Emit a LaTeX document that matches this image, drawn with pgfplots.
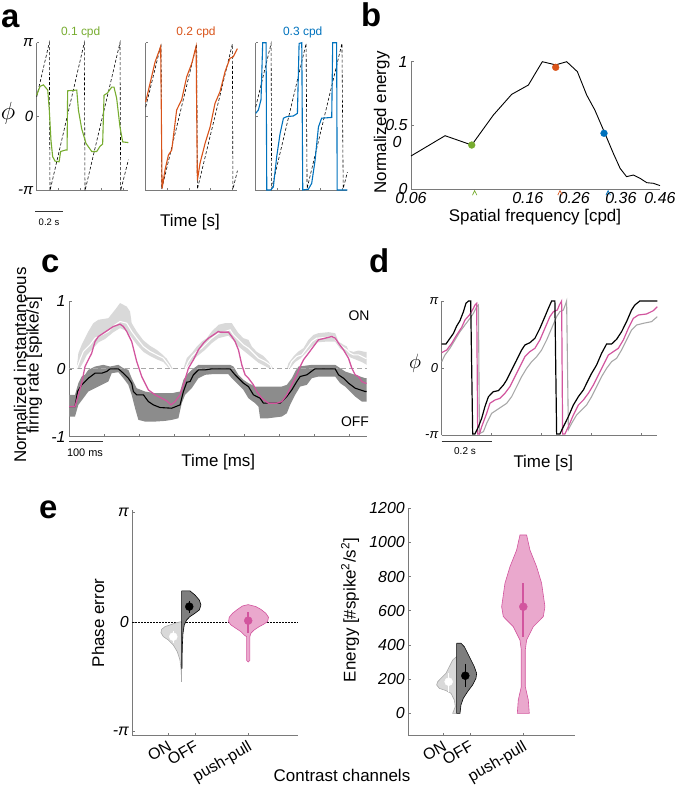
\documentclass[border=0pt]{standalone}
\usepackage{fontspec}
\setmainfont{Liberation Sans}
\usepackage{pgfplots}
\pgfplotsset{compat=1.18}

\definecolor{axc}{HTML}{7A7A7A}
\definecolor{mgreen}{HTML}{77AC30}
\definecolor{morange}{HTML}{D95319}
\definecolor{mblue}{HTML}{0072BD}
\definecolor{pp}{HTML}{D2559E}
\definecolor{ppfill}{HTML}{EAA8CD}
\definecolor{onband}{HTML}{D9D9D9}
\definecolor{offband}{HTML}{8C8C8C}
\definecolor{gline}{HTML}{A8A8A8}

\newcommand{\fs}[1]{\fontsize{#1}{#1}\selectfont}

\pgfdeclareplotmark{caret}{%
  \pgfpathmoveto{\pgfpoint{-2.2bp}{-2bp}}%
  \pgfpathlineto{\pgfpoint{0bp}{2.5bp}}%
  \pgfpathlineto{\pgfpoint{2.2bp}{-2bp}}%
  \pgfusepathqstroke}

\pgfplotsset{
  mat/.style={
    scale only axis, anchor=south west, clip=false,
    axis x line*=bottom, axis y line*=left,
    axis line style={draw=axc, line width=0.7bp, -},
    every tick/.style={draw=axc, line width=0.7bp},
    tick align=inside, major tick length=2.5bp, minor tick length=0pt,
    ticklabel style={font=\fs{16}\itshape, text=black},
    /pgf/number format/assume math mode=true,
  },
  stim/.style={black, line width=0.6bp, dash pattern=on 3bp off 2bp},
}

\begin{document}
\begin{tikzpicture}
\path[use as bounding box] (0,0) rectangle (675bp,-788bp);

% ---------------- panel a ----------------
\begin{axis}[mat, at={(36.7bp,-190.7bp)}, width=91.7bp, height=148bp,
  xmin=0, xmax=0.655, ymin=-1, ymax=1,
  xtick={0.155,0.31,0.465,0.62}, xticklabels={},
  ytick={-1,0,1}, yticklabels={-π,0,π}, yticklabel style={font=\fs{15}\itshape}]
\addplot[stim] coordinates {(0,0.27) (0.09,1) (0.095,-1) (0.34,1) (0.345,-1) (0.595,1) (0.60,-1) (0.655,-0.58)};
\addplot[mgreen, line width=1.1bp] coordinates {
(0,0.29) (0.024,0.41) (0.048,0.43) (0.079,0.36) (0.09,0.09) (0.102,-0.32) (0.114,-0.54)
(0.131,-0.60) (0.160,-0.61) (0.171,-0.47) (0.207,-0.45) (0.217,-0.45) (0.221,0.35)
(0.286,0.36) (0.298,0.09) (0.321,-0.16) (0.352,-0.36) (0.393,-0.47) (0.429,-0.47)
(0.452,-0.40) (0.471,-0.37) (0.481,0.29) (0.505,0.32) (0.536,0.40) (0.552,0.40)
(0.571,0.25) (0.595,-0.14) (0.614,-0.34) (0.655,-0.35)};
\end{axis}

\begin{axis}[mat, at={(145.7bp,-190.7bp)}, width=91.7bp, height=148bp,
  xmin=0, xmax=0.655, ymin=-1, ymax=1,
  xtick={0.155,0.31,0.465,0.62}, xticklabels={},
  ytick={-1,0,1}, yticklabels={}]
\addplot[stim] coordinates {(0,0.13) (0.11,0.98) (0.114,-0.98) (0.364,0.98) (0.369,-0.98) (0.619,0.98) (0.623,-0.98) (0.655,-0.73)};
\addplot[morange, line width=1.1bp] coordinates {
(0,0.20) (0.031,0.45) (0.067,0.74) (0.098,0.90) (0.107,0.95) (0.117,-0.97) (0.138,-0.72)
(0.162,-0.52) (0.186,-0.45) (0.221,0.09) (0.257,0.23) (0.293,0.54) (0.329,0.72)
(0.36,0.95) (0.369,-0.86) (0.388,-0.63) (0.424,-0.36) (0.46,-0.14) (0.495,0.18)
(0.531,0.34) (0.567,0.61) (0.602,0.79) (0.626,0.81) (0.655,0.92)};
\end{axis}

\begin{axis}[mat, at={(255.7bp,-190.7bp)}, width=91.7bp, height=148bp,
  xmin=0, xmax=0.655, ymin=-1, ymax=1,
  xtick={0.155,0.31,0.465,0.62}, xticklabels={},
  ytick={-1,0,1}, yticklabels={}]
\addplot[stim] coordinates {(0,0.13) (0.11,0.99) (0.114,-0.97) (0.36,0.99) (0.367,-0.97) (0.616,0.99) (0.625,-0.97) (0.655,-0.75)};
\addplot[mblue, line width=1.1bp] coordinates {
(0,0.045) (0.019,0.09) (0.038,0.23) (0.05,1.0) (0.074,1.0) (0.079,-0.99) (0.107,-0.99)
(0.126,-0.95) (0.15,-0.54) (0.174,-0.23) (0.198,-0.02) (0.221,0) (0.269,0.01)
(0.298,0.045) (0.31,0.99) (0.329,1.0) (0.336,-0.99) (0.376,-0.98) (0.40,-0.9)
(0.424,-0.59) (0.448,-0.14) (0.471,-0.02) (0.543,-0.01) (0.55,1.0) (0.578,1.0)
(0.582,-0.99) (0.655,-0.99)};
\end{axis}

% ---------------- panel b ----------------
\begin{axis}[mat, at={(411bp,-189.3bp)}, width=249bp, height=127.6bp,
  xmode=log, xmin=0.06, xmax=0.46, ymin=0, ymax=1,
  xtick={0.06,0.156,0.228,0.334,0.46}, xticklabels={0.06,0.16,0.26,0.36,0.46},
  minor xtick={}, xtick style={draw=none},
  ytick={0,0.5,1}, yticklabels={0,0.5,1}]
\addplot[black, line width=0.9bp] coordinates {
(0.06,0.261) (0.0793,0.420) (0.0986,0.347) (0.1177,0.582) (0.1367,0.744) (0.1567,0.817)
(0.1757,1.0) (0.196,0.975) (0.2144,1.0) (0.234,0.922) (0.2525,0.739) (0.270,0.621)
(0.293,0.439) (0.314,0.282) (0.332,0.164) (0.350,0.099) (0.370,0.112) (0.391,0.086)
(0.4126,0.052) (0.4357,0.047) (0.46,0.029)};
\addplot[only marks, mark=*, mark size=3.4bp, mgreen] coordinates {(0.0986,0.347)};
\addplot[only marks, mark=*, mark size=3.4bp, morange] coordinates {(0.196,0.956)};
\addplot[only marks, mark=*, mark size=3.4bp, mblue] coordinates {(0.291,0.439)};
\addplot[only marks, mark=caret, mgreen, line width=0.7bp] coordinates {(0.101,-0.03)};
\addplot[only marks, mark=caret, morange, line width=0.7bp] coordinates {(0.203,-0.03)};
\addplot[only marks, mark=caret, mblue, line width=0.7bp] coordinates {(0.301,-0.03)};
\end{axis}

% ---------------- panel c ----------------
\begin{axis}[mat, at={(69bp,-436.7bp)}, width=297.7bp, height=135.7bp,
  xmin=0, xmax=850, ymin=-1, ymax=1,
  xtick={100,200,...,800}, xticklabels={},
  ytick={-1,0,1}, yticklabels={-1,0,1}]
% OFF band
\addplot[fill=offband, draw=none] coordinates {
(0,-0.383) (17.1,-0.383) (26.7,-0.211) (36.2,-0.113) (45.7,-0.088) (55.2,-0.015) (74.3,0.034)
(98.1,0.059) (117.1,0.034) (141,0.059) (155.2,0.01) (169.5,-0.015) (179,-0.138) (193.3,-0.285)
(217.1,-0.334) (245.7,-0.359) (293.3,-0.359) (317.1,-0.334) (326.7,-0.162) (336.2,-0.088)
(350.5,-0.015) (369.5,0.059) (460,0.059) (469.5,0.034) (483.8,-0.088) (498,-0.162)
(512.3,-0.211) (531.4,-0.261) (607.6,-0.261) (621.9,-0.236) (636.1,-0.138) (645.7,-0.039)
(655.2,0.034) (693.3,0.059) (760,0.059) (774.2,0.01) (788.5,-0.039) (817.1,-0.088)
(845.6,-0.138) (850,-0.138)
(850,-0.482) (836.1,-0.482) (817.1,-0.408) (798,-0.310) (788.5,-0.261) (774.2,-0.211)
(760,-0.113) (712.3,-0.113) (693.3,-0.138) (679,-0.236) (660,-0.261) (645.7,-0.383)
(631.4,-0.531) (621.9,-0.654) (607.6,-0.703) (569.5,-0.728) (545.7,-0.728) (540.9,-0.556)
(531.4,-0.506) (512.3,-0.433) (498,-0.310) (483.8,-0.236) (464.7,-0.138) (455.2,-0.079)
(407.6,-0.079) (388.6,-0.088) (369.5,-0.138) (350.5,-0.285) (331.4,-0.383) (321.9,-0.506)
(312.4,-0.728) (293.3,-0.752) (274.3,-0.767) (245.7,-0.777) (217.1,-0.777) (198.1,-0.752)
(188.6,-0.580) (179,-0.383) (169.5,-0.236) (155.2,-0.138) (141,-0.049) (121.9,-0.064)
(112.4,-0.187) (93.3,-0.236) (74.3,-0.285) (55.2,-0.334) (41,-0.433) (26.7,-0.531)
(17.1,-0.703) (0,-0.703)};
% ON band, three humps
\addplot[fill=onband, draw=none] coordinates {
(21.9,0) (26.7,0.231) (36.2,0.354) (45.7,0.452) (55.2,0.551) (69.5,0.674) (83.8,0.723)
(112.4,0.747) (131.4,0.870) (145.7,0.969) (164.8,0.919) (174.3,0.846) (179,0.674)
(193.3,0.551) (212.4,0.42) (231.4,0.34) (250.5,0.28) (264.8,0.22) (279,0.15) (290,0.06) (296,0)
(291,0) (283.8,0.02) (269.5,0.10) (250.5,0.14) (231.4,0.19) (212.4,0.25) (193.3,0.36)
(179,0.46) (164.8,0.56) (145.7,0.60) (126.7,0.54) (102.9,0.44) (83.8,0.39) (64.8,0.28)
(50.5,0.20) (41,0.10) (30,0)};
\addplot[fill=onband, draw=none] coordinates {
(326.7,0) (336.2,0.157) (350.5,0.231) (364.8,0.329) (379,0.403) (393.3,0.452) (407.6,0.551)
(426.7,0.649) (445.7,0.674) (464.7,0.674) (474.2,0.60) (483.8,0.526) (498,0.452)
(512.3,0.428) (521.9,0.329) (536.1,0.25) (555.2,0.19) (569.5,0.11) (583.8,0)
(574.2,0) (560,0.04) (540.9,0.09) (521.9,0.17) (502.8,0.25) (483.8,0.33) (469.5,0.42)
(455.2,0.49) (445.7,0.477) (426.7,0.452) (407.6,0.379) (388.6,0.28) (364.8,0.182)
(345.7,0.08) (331.4,0)};
\addplot[fill=onband, draw=none] coordinates {
(621.9,0) (626.6,0.084) (640.9,0.182) (655.2,0.256) (669.5,0.305) (683.8,0.428) (698,0.501)
(712.3,0.526) (740.9,0.541) (760,0.526) (769.5,0.403) (783.8,0.354) (793.3,0.329)
(798,0.27) (812.3,0.25) (826.6,0.27) (845.6,0.25) (850,0.25)
(850,0.06) (836.1,0.10) (817.1,0.14) (802.8,0.17) (788.5,0.25) (774.2,0.30) (760,0.40)
(731.4,0.40) (707.6,0.39) (693.3,0.33) (674,0.22) (660,0.15) (645.7,0.10) (630,0)};
\addplot[gline, line width=0.9bp, dash pattern=on 5bp off 3bp] coordinates {(0,0) (850,0)};
% ON mean
\addplot[white, line width=1.1bp] coordinates {
(21.9,0) (31.4,0.133) (41,0.256) (50.5,0.305) (60,0.354) (74.3,0.452) (93.3,0.501)
(112.4,0.551) (131.4,0.649) (145.7,0.698) (164.8,0.674) (179,0.551) (193.3,0.452)
(212.4,0.329) (231.4,0.256) (250.5,0.206) (269.5,0.157) (283.8,0.059) (291.4,0)};
\addplot[white, line width=1.1bp] coordinates {
(331.4,0) (341,0.108) (350.5,0.182) (364.8,0.256) (379,0.305) (393.3,0.379) (407.6,0.452)
(426.7,0.526) (445.7,0.551) (460,0.575) (469.5,0.501) (483.8,0.428) (498,0.354)
(512.3,0.305) (526.6,0.231) (540.9,0.157) (560,0.108) (574.2,0.059) (579,0)};
\addplot[white, line width=1.1bp] coordinates {
(626.6,0) (636.1,0.108) (650.4,0.182) (664.7,0.206) (679,0.305) (693.3,0.403) (707.6,0.452)
(731.4,0.462) (755.2,0.477) (764.7,0.403) (779,0.329) (793.3,0.280) (802.8,0.231)
(812.3,0.206) (826.6,0.206) (836.1,0.182) (845.6,0.157) (850,0.157)};
% OFF mean
\addplot[black, line width=1.1bp] coordinates {
(0,-0.556) (17.1,-0.556) (24.4,-0.334) (36.2,-0.236) (45.7,-0.187) (55.2,-0.138) (74.3,-0.064)
(93.3,-0.064) (107.6,-0.039) (117.1,0) (141,0) (155.2,-0.064) (169.5,-0.138) (179,-0.211)
(183.8,-0.334) (193.3,-0.383) (212.4,-0.383) (226.7,-0.482) (241,-0.531) (260,-0.570)
(293.3,-0.580) (317.1,-0.531) (326.7,-0.334) (336.2,-0.197) (345.7,-0.187) (355.2,-0.088)
(369.5,-0.015) (388.6,-0.015) (407.6,0) (460,0) (474.2,-0.088) (488.5,-0.162) (498,-0.211)
(512.3,-0.261) (526.6,-0.383) (545.7,-0.433) (555.2,-0.506) (602.8,-0.506) (621.9,-0.408)
(636.1,-0.310) (650.4,-0.187) (660,-0.113) (679,-0.088) (698,-0.015) (702.8,0) (760,0)
(769.5,-0.088) (783.8,-0.138) (798,-0.211) (817.1,-0.285) (845.6,-0.334) (850,-0.334)};
% push-pull
\addplot[pp, line width=1.3bp] coordinates {
(0,-0.556) (17.1,-0.556) (26.7,-0.383) (36.2,-0.211) (45.7,0.034) (55.2,0.133) (64.8,0.231)
(74.3,0.403) (83.8,0.477) (98.1,0.526) (112.4,0.575) (126.7,0.624) (145.7,0.659)
(155.2,0.624) (164.8,0.551) (179,0.403) (193.3,0.108) (207.6,-0.113) (226.7,-0.310)
(245.7,-0.383) (264.8,-0.433) (279,-0.472) (291.4,-0.531) (302.9,-0.482) (317.1,-0.383)
(326.7,-0.236) (341,0.01) (355.2,0.133) (369.5,0.280) (383.8,0.379) (398,0.452)
(412.4,0.501) (426.7,0.551) (431.4,0.541) (455.2,0.541) (464.7,0.477) (474.2,0.403)
(483.8,0.280) (493.3,0.059) (502.8,-0.088) (512.3,-0.138) (526.6,-0.236) (536.1,-0.334)
(550.4,-0.433) (569.5,-0.506) (593.3,-0.506) (607.6,-0.482) (621.9,-0.383) (636.1,-0.236)
(650.4,-0.088) (660,0.034) (669.5,0.133) (683.8,0.231) (698,0.329) (712.3,0.428)
(731.4,0.452) (750.4,0.477) (760,0.452) (769.5,0.379) (783.8,0.280) (798,0.157)
(807.5,0.01) (817.1,-0.088) (826.6,-0.113) (836.1,-0.187) (845.6,-0.211) (850,-0.211)};
\end{axis}

% ---------------- panel d ----------------
\begin{axis}[mat, at={(441.7bp,-435bp)}, width=215.6bp, height=134bp,
  xmin=0, xmax=0.863, ymin=-1, ymax=1,
  xtick={0.2,0.4,0.6,0.8}, xticklabels={},
  ytick={-1,0,1}, yticklabels={-π,0,π}, yticklabel style={font=\fs{13}\itshape}]
\addplot[gline, line width=1.1bp] coordinates {
(0,0.095) (0.013,0.194) (0.033,0.294) (0.053,0.418) (0.073,0.542) (0.093,0.642) (0.113,0.741)
(0.127,0.816) (0.14,0.915) (0.147,0.94) (0.151,-0.985) (0.153,-0.975) (0.167,-0.95)
(0.18,-0.826) (0.2,-0.677) (0.22,-0.627) (0.24,-0.577) (0.26,-0.527) (0.28,-0.428)
(0.30,-0.279) (0.32,-0.129) (0.34,-0.005) (0.36,0.095) (0.38,0.169) (0.40,0.269)
(0.42,0.418) (0.44,0.592) (0.46,0.766) (0.473,0.841) (0.487,0.866) (0.497,0.965) (0.50,1)
(0.507,-0.92) (0.52,-0.826) (0.54,-0.701) (0.56,-0.627) (0.58,-0.552) (0.60,-0.428)
(0.62,-0.279) (0.64,-0.129) (0.66,-0.005) (0.68,0.095) (0.70,0.144) (0.72,0.269)
(0.74,0.418) (0.76,0.567) (0.78,0.642) (0.807,0.667) (0.84,0.692) (0.863,0.766)};
\addplot[pp, line width=1.2bp] coordinates {
(0,0.229) (0.02,0.269) (0.04,0.368) (0.06,0.493) (0.08,0.607) (0.093,0.716) (0.111,0.791)
(0.127,0.891) (0.133,0.94) (0.14,0.965) (0.144,-0.985) (0.151,-0.985) (0.16,-0.876)
(0.18,-0.677) (0.193,-0.527) (0.213,-0.478) (0.233,-0.453) (0.253,-0.378) (0.273,-0.279)
(0.293,-0.129) (0.313,0.02) (0.333,0.169) (0.353,0.244) (0.373,0.294) (0.393,0.418)
(0.413,0.592) (0.433,0.766) (0.447,0.841) (0.463,0.866) (0.471,0.94) (0.48,1.0)
(0.484,-0.985) (0.493,-0.985) (0.507,-0.876) (0.527,-0.701) (0.547,-0.552) (0.567,-0.478)
(0.587,-0.378) (0.607,-0.254) (0.627,-0.104) (0.647,0.045) (0.667,0.194) (0.687,0.244)
(0.707,0.294) (0.727,0.418) (0.747,0.592) (0.767,0.741) (0.787,0.791) (0.82,0.806)
(0.847,0.856) (0.863,0.915)};
\addplot[black, line width=1.2bp] coordinates {
(0,0.358) (0.017,0.358) (0.033,0.443) (0.047,0.517) (0.06,0.627) (0.073,0.706) (0.087,0.841)
(0.097,0.965) (0.107,1.0) (0.116,1.0) (0.124,-0.985) (0.133,-0.985) (0.147,-0.876)
(0.16,-0.751) (0.173,-0.577) (0.187,-0.428) (0.207,-0.353) (0.227,-0.338) (0.247,-0.254)
(0.26,-0.179) (0.28,-0.03) (0.30,0.119) (0.32,0.269) (0.333,0.343) (0.353,0.378)
(0.373,0.443) (0.393,0.592) (0.413,0.766) (0.427,0.891) (0.44,1.0) (0.453,1.0)
(0.46,-0.985) (0.473,-0.985) (0.487,-0.876) (0.507,-0.726) (0.527,-0.552) (0.547,-0.428)
(0.567,-0.328) (0.58,-0.229) (0.60,-0.08) (0.62,0.045) (0.64,0.219) (0.66,0.358)
(0.68,0.358) (0.70,0.428) (0.72,0.542) (0.74,0.692) (0.76,0.866) (0.773,0.94) (0.793,1.0)
(0.863,1.0)};
\end{axis}

% ---------------- panel e, phase error ----------------
\begin{axis}[mat, at={(132.3bp,-735bp)}, width=166bp, height=225bp,
  xmin=0.325, xmax=3.44, ymin=-1.03, ymax=1.02,
  xtick={1,1.5,2.5}, xticklabels={ON,OFF,push-pull},
  xticklabel style={font=\fs{16}\upshape, rotate=30, anchor=north east},
  ytick={-1,0,1}, yticklabels={-π,0,π}]
\addplot[black, line width=0.5bp, dash pattern=on 1.5bp off 1.5bp] coordinates {(0.325,0) (3.44,0)};
\addplot[fill=onband, draw=gline, line width=0.6bp] coordinates {
(1.25,0.003) (1.157,-0.006) (1.032,-0.027) (0.938,-0.043) (0.875,-0.067) (0.863,-0.097)
(0.907,-0.134) (1.0,-0.164) (1.094,-0.210) (1.169,-0.271) (1.219,-0.346) (1.238,-0.422)
(1.25,-0.529)};
\addplot[gline, line width=1.2bp] coordinates {(1.25,-0.42) (1.25,-0.55)};
\addplot[fill=offband!90!black, draw=black, line width=0.6bp] coordinates {
(1.25,0.283) (1.407,0.283) (1.50,0.246) (1.582,0.20) (1.613,0.155) (1.582,0.109) (1.50,0.079)
(1.407,0.049) (1.345,0.018) (1.30,-0.027) (1.276,-0.103) (1.263,-0.225) (1.257,-0.422)
(1.25,-0.422) (1.25,0.283)};
\addplot[white, line width=1.5bp] coordinates {(1.094,-0.08) (1.094,-0.19)};
\addplot[only marks, mark=*, mark size=4bp, white] coordinates {(1.094,-0.134)};
\addplot[black, line width=1.5bp] coordinates {(1.394,0.193) (1.394,0.085)};
\addplot[only marks, mark=*, mark size=4bp, black] coordinates {(1.394,0.14)};
\addplot[fill=ppfill, draw=pp, line width=0.6bp] coordinates {
(2.5,0.158) (2.644,0.140) (2.7375,0.115) (2.831,0.079) (2.881,0.043) (2.8625,0.003) (2.80,-0.018)
(2.706,-0.043) (2.6125,-0.073) (2.55,-0.103) (2.531,-0.134) (2.531,-0.35) (2.5,-0.365)
(2.469,-0.35) (2.469,-0.134) (2.425,-0.119) (2.3625,-0.088) (2.269,-0.058) (2.175,-0.027)
(2.131,0.003) (2.144,0.043) (2.206,0.079) (2.30,0.115) (2.394,0.146) (2.5,0.158)};
\addplot[pp, line width=1.6bp] coordinates {(2.5,0.088) (2.5,-0.103)};
\addplot[only marks, mark=*, mark size=4bp, pp] coordinates {(2.5,0.012)};
\end{axis}

% ---------------- panel e, energy ----------------
\begin{axis}[mat, at={(408.3bp,-735bp)}, width=166.7bp, height=226.7bp,
  xmin=0.343, xmax=3.47, ymin=-127, ymax=1200,
  xtick={1,1.5,2.5}, xticklabels={ON,OFF,push-pull},
  xticklabel style={font=\fs{16}\upshape, rotate=30, anchor=north east},
  ytick={0,200,400,600,800,1000,1200}, yticklabels={0,200,400,600,800,1000,1200}]
\addplot[fill=onband, draw=gline, line width=0.6bp] coordinates {
(1.25,332) (1.175,312) (1.1125,273) (1.05,234) (0.956,205) (0.894,185) (0.875,166) (0.925,146)
(1.05,133) (1.144,117) (1.206,78) (1.225,39) (1.175,0) (1.25,0)};
\addplot[fill=offband!90!black, draw=black, line width=0.6bp] coordinates {
(1.25,410) (1.331,410) (1.394,390) (1.4875,332) (1.581,273) (1.625,234) (1.6125,205) (1.55,166)
(1.456,127) (1.375,88) (1.331,49) (1.3125,0) (1.25,0) (1.25,410)};
\addplot[white, line width=1.5bp] coordinates {(1.1,234) (1.1,127)};
\addplot[only marks, mark=*, mark size=4bp, white] coordinates {(1.1,185)};
\addplot[black, line width=1.5bp] coordinates {(1.4125,289) (1.4125,152)};
\addplot[only marks, mark=*, mark size=4bp, black] coordinates {(1.4125,220)};
\addplot[fill=ppfill, draw=pp, line width=0.6bp] coordinates {
(2.5625,1044) (2.625,956) (2.75,858) (2.844,761) (2.906,624) (2.875,566) (2.6875,507)
(2.5625,429) (2.5375,371) (2.5375,156) (2.594,78) (2.6125,0)
(2.3875,0) (2.406,78) (2.4625,156) (2.4625,371) (2.4375,429) (2.3125,507) (2.125,566)
(2.094,624) (2.156,761) (2.25,858) (2.375,956) (2.4375,1044) (2.5625,1044)};
\addplot[pp, line width=1.6bp] coordinates {(2.5,761) (2.5,449)};
\addplot[only marks, mark=*, mark size=4bp, pp] coordinates {(2.5,624)};
\end{axis}

% ---------------- text ----------------
\node[anchor=base west, inner sep=0] at (1bp,-27.3bp) {\bfseries\fs{33}a};
\node[anchor=base west, inner sep=0] at (361bp,-26.7bp) {\bfseries\fs{33}b};
\node[anchor=base west, inner sep=0] at (41bp,-272.3bp) {\bfseries\fs{33}c};
\node[anchor=base west, inner sep=0] at (369bp,-272.3bp) {\bfseries\fs{33}d};
\node[anchor=base west, inner sep=0] at (39bp,-518.3bp) {\bfseries\fs{33}e};

\node[text=mgreen] at (80.7bp,-32bp) {\fs{12}0.1 cpd};
\node[text=morange] at (196bp,-32bp) {\fs{12}0.2 cpd};
\node[text=mblue] at (302.7bp,-32bp) {\fs{12}0.3 cpd};
\node at (8bp,-113bp) {\fs{25}$\phi$};
\draw[black!80, line width=0.8bp] (35bp,-211bp) -- (63bp,-211bp);
\node at (49bp,-222bp) {\fs{9.5}0.2 s};
\node at (190bp,-222bp) {\fs{17}Time [s]};

\node at (397bp,-141.7bp) {\fs{16}\itshape 0};
\node at (535bp,-216.7bp) {\fs{17}Spatial frequency [cpd]};
\node[rotate=90] at (381.7bp,-122.5bp) {\fs{17}Normalized energy};

\node[rotate=90, align=center] at (28bp,-365bp) {\fs{17}Normalized instantaneous\\[-1bp]\fs{17}firing rate [spike/s]};
\draw[black!80, line width=0.8bp] (69bp,-441.7bp) -- (103.3bp,-441.7bp);
\node at (85bp,-452.3bp) {\fs{11}100 ms};
\node at (218.3bp,-462bp) {\fs{17}Time [ms]};
\node at (359bp,-316bp) {\fs{14}ON};
\node at (355bp,-422bp) {\fs{14}OFF};

\node at (415bp,-363bp) {\fs{21}$\phi$};
\draw[black!80, line width=0.8bp] (441.7bp,-441.7bp) -- (491.7bp,-441.7bp);
\node at (465bp,-451bp) {\fs{10}0.2 s};
\node at (543.3bp,-463bp) {\fs{17}Time [s]};

\node[rotate=90] at (98bp,-623bp) {\fs{17}Phase error};
\node[rotate=90] at (350bp,-610bp) {\fs{17}Energy [\#spike\textsuperscript{2}/s\textsuperscript{2}]};
\node at (342bp,-775bp) {\fs{17}Contrast channels};
\end{tikzpicture}
\end{document}
